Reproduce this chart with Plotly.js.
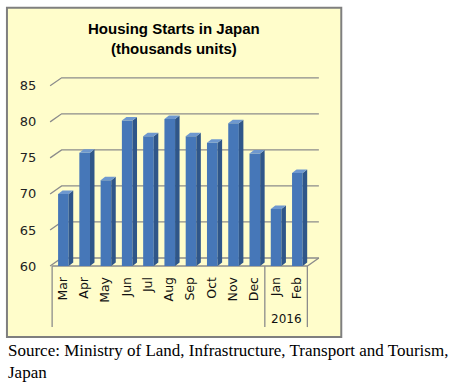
<!DOCTYPE html>
<html>
<head>
<meta charset="utf-8">
<script src="https://cdn.plot.ly/plotly-3.0.1.min.js"></script>
<style>html,body{margin:0;padding:0;background:#fff;}#chart{width:454px;height:382px;}</style>
</head>
<body>
<div id="chart"></div>
<script>
// ---- data ----
const months = ["Mar","Apr","May","Jun","Jul","Aug","Sep","Oct","Nov","Dec","Jan","Feb"];
const starts = [70.0, 75.7, 71.9, 80.2, 78.0, 80.4, 78.0, 77.1, 79.8, 75.6, 67.9, 72.9];
const yearLabel = "2016";
const yearStartIndex = 10; // Jan 2016
const yTicks = [60, 65, 70, 75, 80, 85];
const titleText = "<b>Housing Starts in Japan<br>(thousands units)</b>";
const sourceText = "Source: Ministry of Land, Infrastructure, Transport and Tourism,<br>Japan";

// ---- geometry ----
const W = 454, H = 382;
const xRange = [-0.6, 12.0], yRange = [60, 86.5];
const catPx = 21.25, unitPx = 7.2;
const ml = 50;
const plotW = (xRange[1] - xRange[0]) * catPx;
const mr = W - ml - plotW;
const mb = 116;
const plotH = (yRange[1] - yRange[0]) * unitPx;
const mt = H - mb - plotH;

// pixel -> paper helpers
const xp = px => (px - ml) / plotW;
const yp = py => (H - mb - py) / plotH;
const xPix = c => ml + (c - xRange[0]) * catPx;
const yPix = v => H - mb - (v - yRange[0]) * unitPx;

const wallDX = 11.5, wallDY = 8;   // back wall depth (px)
const barDX = 4.5, barDY = 3.5;    // bar depth (px)
const barW = 0.5, barOff = -0.22;  // category units
const gridColor = "#8c8c8c";

const shapes = [];
// chart area background and border
shapes.push({type:"rect", xref:"paper", yref:"paper", layer:"below",
  x0:xp(7), x1:xp(341), y0:yp(337), y1:yp(8),
  fillcolor:"#FFFDCB", line:{color:"#7f7f7f", width:2}});

// 3D gridlines
const xLeft = xPix(-0.5) - 2, xRightFront = xPix(11.5);
yTicks.forEach(v => {
  const yf = yPix(v);
  const path = `M${xp(xLeft)},${yp(yf)} L${xp(xLeft + wallDX)},${yp(yf - wallDY)} L${xp(xRightFront + wallDX)},${yp(yf - wallDY)}`;
  shapes.push({type:"path", xref:"paper", yref:"paper", layer:"below", path, line:{color:gridColor, width:1.3}});
});
// floor front and right edge
{
  const yf = yPix(yRange[0]);
  const path = `M${xp(xPix(-0.5))},${yp(yf)} L${xp(xRightFront)},${yp(yf)} L${xp(xRightFront + wallDX)},${yp(yf - wallDY)}`;
  shapes.push({type:"path", xref:"paper", yref:"paper", layer:"below", path, line:{color:gridColor, width:1.3}});
}
// category box lines
const boxBottom = 327;
[-0.5, yearStartIndex - 0.5, months.length - 0.5].forEach(c => {
  shapes.push({type:"line", xref:"paper", yref:"paper", layer:"below",
    x0:xp(xPix(c)), x1:xp(xPix(c)), y0:yp(yPix(yRange[0])), y1:yp(boxBottom),
    line:{color:gridColor, width:1.3}});
});

// bar depth faces (side and top) in data coordinates
const dxb = barDX / catPx, dyb = barDY / unitPx;
starts.forEach((v, i) => {
  const xl = i + barOff, xr = i + barOff + barW;
  const base = yRange[0];
  shapes.push({type:"path", xref:"x", yref:"y", layer:"above",
    path:`M${xr},${base} L${xr},${v} L${xr+dxb},${v+dyb} L${xr+dxb},${base+dyb} Z`,
    fillcolor:"#2F5689", line:{width:0}});
  shapes.push({type:"path", xref:"x", yref:"y", layer:"above",
    path:`M${xl},${v} L${xr},${v} L${xr+dxb},${v+dyb} L${xl+dxb},${v+dyb} Z`,
    fillcolor:"#6E98CF", line:{width:0}});
});

const data = [{
  type:"bar",
  x: months.map((m, i) => i),
  y: starts,
  base: 0,
  width: barW,
  offset: barOff,
  marker:{color:"#4677B8", line:{width:0}},
  hoverinfo:"y"
}];

const layout = {
  width:W, height:H,
  margin:{l:ml, r:mr, t:mt, b:mb, pad:0},
  paper_bgcolor:"#ffffff",
  plot_bgcolor:"rgba(0,0,0,0)",
  showlegend:false,
  xaxis:{range:xRange, tickmode:"array", tickvals:months.map((m,i)=>i), ticktext:months,
    tickangle:-90, showgrid:false, zeroline:false, showline:false,
    ticks:"outside", ticklen:5, tickcolor:"rgba(0,0,0,0)",
    tickfont:{family:"DejaVu Sans, sans-serif", size:12.5, color:"#111"}},
  yaxis:{range:yRange, tickmode:"array", tickvals:yTicks, ticktext:yTicks.map(String),
    showgrid:false, zeroline:false, showline:false,
    ticks:"outside", ticklen:10, tickcolor:"rgba(0,0,0,0)",
    tickfont:{family:"DejaVu Sans, sans-serif", size:13, color:"#222"}},
  shapes,
  annotations:[
    {text:titleText, xref:"paper", yref:"paper", x:xp(174), y:yp(38.5),
     xanchor:"center", yanchor:"middle", showarrow:false,
     font:{family:"Liberation Sans, Arial, sans-serif", size:15, color:"#000"}},
    {text:yearLabel, xref:"paper", yref:"paper", x:xp(xPix((yearStartIndex + months.length - 1)/2)), y:yp(319),
     xanchor:"center", yanchor:"middle", showarrow:false,
     font:{family:"DejaVu Sans, sans-serif", size:12, color:"#111"}},
    {text:sourceText, xref:"paper", yref:"paper", x:xp(6), y:yp(339), xanchor:"left", yanchor:"top",
     align:"left", showarrow:false,
     font:{family:"Liberation Serif, Times New Roman, serif", size:17, color:"#000"}}
  ]
};

Plotly.newPlot("chart", data, layout, {displayModeBar:false, staticPlot:true});
</script>
</body>
</html>
